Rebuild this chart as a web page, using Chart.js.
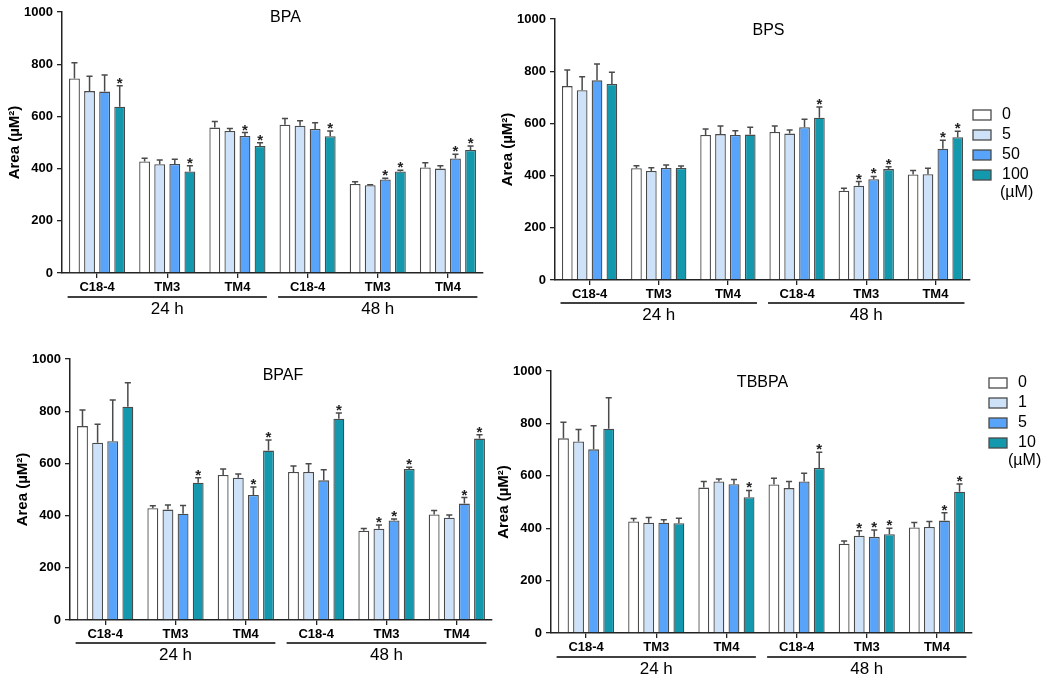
<!DOCTYPE html>
<html lang="en">
<head>
    <meta charset="UTF-8">
    <title>Area per cell line and dose</title>
    <script src="https://cdn.jsdelivr.net/npm/chart.js"></script>
    <style>
        body { margin: 0; background: #fff; }
        #page { position: relative; width: 1050px; height: 684px; }
        .panel { position: absolute; }
    </style>
</head>
<body>
<div id="page"></div>
<script>
// categories and groups
const categories = ["C18-4", "TM3", "TM4", "C18-4", "TM3", "TM4"];
const timeGroups = ["24 h", "48 h"];
const doseBisphenol = ["0", "5", "50", "100"];
const doseTbbpa = ["0", "1", "5", "10"];
const doseUnit = "(\u00b5M)";
const yTicks = [0, 200, 400, 600, 800, 1000];

// means (one row per dose), SEM, significance (1 = *)
const bpaMean = [
    [745, 427, 557, 568, 341, 404],
    [697, 417, 544, 564, 336, 400],
    [695, 418, 525, 552, 358, 439],
    [637, 389, 487, 524, 389, 471]
];
const bpaSem = [
    [61, 13, 23, 24, 9, 18],
    [57, 16, 10, 19, 2, 11],
    [64, 18, 13, 24, 5, 16],
    [80, 22, 12, 20, 5, 16]
];
const bpaSig = [
    [0, 0, 0, 0, 0, 0],
    [0, 0, 0, 0, 0, 0],
    [0, 0, 1, 0, 1, 1],
    [1, 1, 1, 1, 1, 1]
];

const bpsMean = [
    [743, 428, 556, 567, 342, 404],
    [727, 418, 559, 561, 361, 405],
    [765, 429, 556, 585, 386, 503],
    [751, 429, 557, 622, 425, 547]
];
const bpsSem = [
    [62, 10, 23, 23, 10, 16],
    [52, 12, 31, 14, 16, 23],
    [63, 12, 16, 31, 11, 32],
    [45, 8, 28, 41, 9, 23]
];
const bpsSig = [
    [0, 0, 0, 0, 0, 0],
    [0, 0, 0, 0, 1, 0],
    [0, 0, 0, 0, 1, 1],
    [0, 0, 0, 1, 1, 1]
];

const bpafMean = [
    [743, 428, 556, 567, 342, 404],
    [679, 423, 545, 567, 350, 392],
    [685, 407, 479, 535, 381, 446],
    [817, 526, 649, 771, 579, 695]
];
const bpafSem = [
    [62, 10, 23, 23, 9, 16],
    [71, 18, 14, 32, 14, 10],
    [158, 32, 31, 41, 6, 23],
    [92, 19, 41, 22, 6, 15]
];
const bpafSig = [
    [0, 0, 0, 0, 0, 0],
    [0, 0, 0, 0, 1, 0],
    [0, 0, 1, 0, 1, 1],
    [0, 1, 1, 1, 1, 1]
];

const tbbpaMean = [
    [743, 426, 555, 567, 341, 403],
    [731, 421, 578, 553, 371, 405],
    [701, 421, 568, 578, 367, 429],
    [780, 419, 518, 630, 377, 539]
];
const tbbpaSem = [
    [61, 11, 23, 24, 10, 19],
    [46, 20, 10, 25, 19, 21],
    [90, 11, 18, 32, 26, 30],
    [118, 19, 26, 60, 23, 30]
];
const tbbpaSig = [
    [0, 0, 0, 0, 0, 0],
    [0, 0, 0, 0, 1, 0],
    [0, 0, 0, 0, 1, 1],
    [0, 0, 1, 1, 1, 1]
];

const fill = ["#ffffff", "#cde2f8", "#58a4fb", "#1398ad"];
const edge = "#4a4a4a";
const FONT = "Arial, 'Liberation Sans', sans-serif";

// error bars, stars, title, group brackets, legend
const extras = {
    id: "extras",
    afterDatasetsDraw(chart, args, o) {
        const ctx = chart.ctx;
        const y = chart.scales.y;
        ctx.save();
        chart.data.datasets.forEach((ds, di) => {
            const meta = chart.getDatasetMeta(di);
            meta.data.forEach((bar, i) => {
                const top = y.getPixelForValue(ds.data[i] + o.sem[di][i]);
                const half = bar.width * 0.28;
                ctx.strokeStyle = edge;
                ctx.lineWidth = 1.5;
                ctx.beginPath();
                ctx.moveTo(bar.x, bar.y);
                ctx.lineTo(bar.x, top);
                ctx.moveTo(bar.x - half, top);
                ctx.lineTo(bar.x + half, top);
                ctx.stroke();
                if (o.sig[di][i]) {
                    ctx.fillStyle = "#222";
                    ctx.font = "bold 15px " + FONT;
                    ctx.textAlign = "center";
                    ctx.textBaseline = "alphabetic";
                    ctx.fillText("*", bar.x, top + 2);
                }
            });
        });
        ctx.restore();
    },
    afterDraw(chart, args, o) {
        const ctx = chart.ctx;
        const x = chart.scales.x;
        const area = chart.chartArea;
        const catW = x.getPixelForValue(1) - x.getPixelForValue(0);
        ctx.save();
        // title
        ctx.fillStyle = "#000";
        ctx.font = "16px " + FONT;
        ctx.textAlign = "center";
        ctx.textBaseline = "middle";
        ctx.fillText(o.title, (area.left + area.right) / 2 + o.titleDx, area.top + o.titleDy);
        // group brackets
        timeGroups.forEach((g, gi) => {
            const x0 = x.getPixelForValue(gi * 3) - catW * 0.42;
            const x1 = x.getPixelForValue(gi * 3 + 2) + catW * 0.42;
            const ly = area.bottom + o.bracketDy;
            ctx.strokeStyle = "#000";
            ctx.lineWidth = 1.5;
            ctx.beginPath();
            ctx.moveTo(x0, ly);
            ctx.lineTo(x1, ly);
            ctx.stroke();
            ctx.font = "17px " + FONT;
            ctx.fillText(g, (x0 + x1) / 2, ly + 12);
        });
        // legend
        if (o.legend) {
            const lx = area.right + o.legendDx;
            let ly = area.top + o.legendDy;
            o.legend.forEach((lab, i) => {
                ctx.fillStyle = fill[i];
                ctx.fillRect(lx, ly - 5, 18, 10);
                ctx.strokeStyle = edge;
                ctx.lineWidth = 1.3;
                ctx.strokeRect(lx, ly - 5, 18, 10);
                ctx.fillStyle = "#000";
                ctx.font = "16px " + FONT;
                ctx.textAlign = "left";
                ctx.fillText(lab, lx + 29, ly);
                ly += 20;
            });
            ctx.fillText(doseUnit, lx + o.unitDx, ly - 2);
        }
        ctx.restore();
    }
};

function makePanel(box, area, title, mean, sem, sig, legend, deco) {
    const div = document.createElement("div");
    div.className = "panel";
    div.style.left = box.left + "px";
    div.style.top = box.top + "px";
    div.style.width = box.width + "px";
    div.style.height = box.height + "px";
    const canvas = document.createElement("canvas");
    div.appendChild(canvas);
    document.getElementById("page").appendChild(div);

    const axisGrid = {
        display: true, drawOnChartArea: false, drawTicks: true,
        tickLength: 5, color: "#222", lineWidth: 1.3
    };
    new Chart(canvas, {
        type: "bar",
        data: {
            labels: categories,
            datasets: mean.map((row, i) => ({
                data: row,
                backgroundColor: fill[i],
                borderColor: edge,
                borderWidth: 1.3,
                barPercentage: 0.72,
                categoryPercentage: 0.86
            }))
        },
        options: {
            responsive: true,
            maintainAspectRatio: false,
            animation: false,
            layout: {
                padding: {
                    left: 0,
                    top: area.t - box.top,
                    right: box.left + box.width - area.r,
                    bottom: 0
                }
            },
            scales: {
                x: {
                    grid: Object.assign({}, axisGrid, { offset: false }),
                    border: { color: "#222", width: 1.5 },
                    ticks: {
                        color: "#000", padding: 2, maxRotation: 0, autoSkip: false,
                        font: { family: FONT, size: 13, weight: "bold" }
                    },
                    afterFit: s => { s.height = box.top + box.height - area.b; }
                },
                y: {
                    min: 0, max: 1000,
                    afterBuildTicks: s => { s.ticks = yTicks.map(v => ({ value: v })); },
                    grid: axisGrid,
                    border: { color: "#222", width: 1.5 },
                    ticks: {
                        color: "#000", padding: 4,
                        callback: v => String(v),
                        font: { family: FONT, size: 13, weight: "bold" }
                    },
                    title: {
                        display: true, text: "Area (\u00b5M\u00b2)", color: "#000",
                        font: { family: FONT, size: 15, weight: "bold" },
                        padding: { top: 6, bottom: 0 }
                    },
                    afterFit: s => { s.width = area.l - box.left; }
                }
            },
            plugins: {
                legend: { display: false },
                tooltip: { enabled: false },
                extras: Object.assign({ title, sem, sig, legend }, deco)
            }
        },
        plugins: [extras]
    });
}

makePanel({ left: 0, top: 0, width: 493, height: 340 },
    { l: 62, t: 12, r: 483, b: 273 },
    "BPA", bpaMean, bpaSem, bpaSig, null,
    { titleDx: 13, titleDy: 6, bracketDy: 24 });

makePanel({ left: 493, top: 0, width: 557, height: 340 },
    { l: 555, t: 19, r: 970, b: 280 },
    "BPS", bpsMean, bpsSem, bpsSig, doseBisphenol,
    { titleDx: 6, titleDy: 12, bracketDy: 23, legendDx: 3, legendDy: 96, unitDx: 27 });

makePanel({ left: 8, top: 340, width: 485, height: 344 },
    { l: 70, t: 359, r: 492, b: 620 },
    "BPAF", bpafMean, bpafSem, bpafSig, null,
    { titleDx: 2, titleDy: 17, bracketDy: 23 });

makePanel({ left: 489, top: 340, width: 561, height: 344 },
    { l: 551, t: 371, r: 972, b: 633 },
    "TBBPA", tbbpaMean, tbbpaSem, tbbpaSig, doseTbbpa,
    { titleDx: 1, titleDy: 12, bracketDy: 24, legendDx: 17, legendDy: 12, unitDx: 19 });
</script>
</body>
</html>
